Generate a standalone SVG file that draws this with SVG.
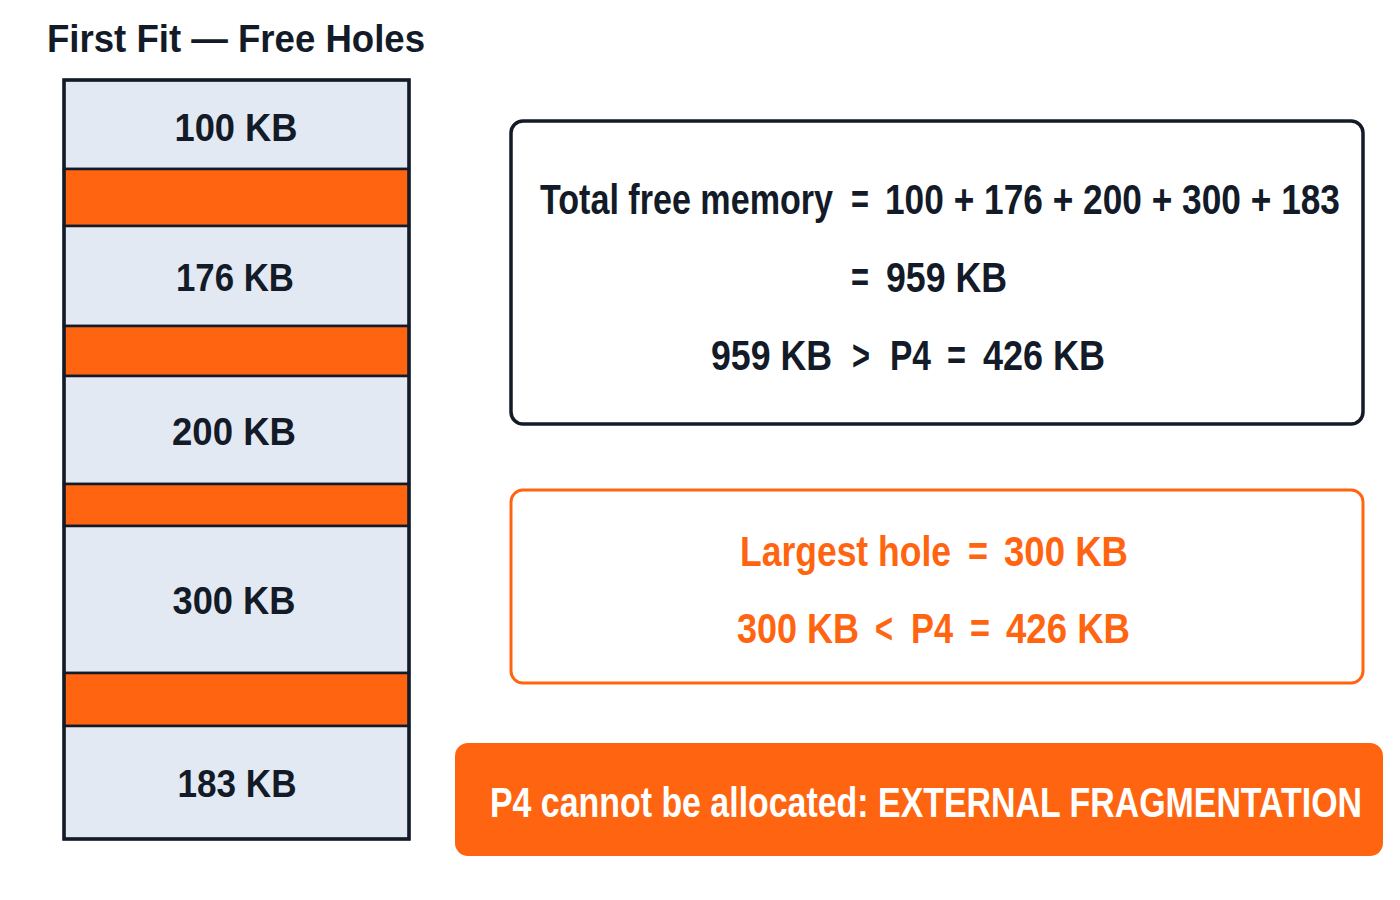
<svg xmlns="http://www.w3.org/2000/svg" width="1400" height="900" viewBox="0 0 1400 900">
  <style>
    text { font-family: "Liberation Sans", "Roboto", Arial, sans-serif; font-weight: bold; }
    .dark { fill: #131a28; }
    .org { fill: #ff6510; }
    .wht { fill: #ffffff; }
    .hole { fill: #e3e9f2; stroke: #131a28; stroke-width: 2.5; }
    .used { fill: #ff6510; stroke: #131a28; stroke-width: 2.5; }
    .lbl { font-size: 38px; text-anchor: middle; }
    .eq { font-size: 33px; }
  </style>
  <rect width="1400" height="900" fill="#ffffff"/>

  <g id="title">
    <text class="dark" x="47" y="52" font-size="38" textLength="378" lengthAdjust="spacingAndGlyphs">First Fit — Free Holes</text>
  </g>

  <g id="memory">
    <rect class="hole" x="64" y="80" width="345" height="89"/>
    <rect class="used" x="64" y="169" width="345" height="57"/>
    <rect class="hole" x="64" y="226" width="345" height="100"/>
    <rect class="used" x="64" y="326" width="345" height="50"/>
    <rect class="hole" x="64" y="376" width="345" height="108"/>
    <rect class="used" x="64" y="484" width="345" height="42"/>
    <rect class="hole" x="64" y="526" width="345" height="147"/>
    <rect class="used" x="64" y="673" width="345" height="53"/>
    <rect class="hole" x="64" y="726" width="345" height="113"/>
    <rect x="64" y="80" width="345" height="759" fill="none" stroke="#131a28" stroke-width="3.5"/>
    <text class="dark lbl" x="236" y="141" textLength="123" lengthAdjust="spacingAndGlyphs">100 KB</text>
    <text class="dark lbl" x="235" y="291" textLength="118" lengthAdjust="spacingAndGlyphs">176 KB</text>
    <text class="dark lbl" x="234" y="445" textLength="124" lengthAdjust="spacingAndGlyphs">200 KB</text>
    <text class="dark lbl" x="234" y="614" textLength="123" lengthAdjust="spacingAndGlyphs">300 KB</text>
    <text class="dark lbl" x="237" y="797" textLength="119" lengthAdjust="spacingAndGlyphs">183 KB</text>
  </g>

  <g id="total-box">
    <rect x="511" y="121" width="852" height="303" rx="12" fill="#ffffff" stroke="#131a28" stroke-width="3.5"/>
    <g transform="translate(0 213.5) scale(1 1.29)">
      <text class="dark eq" x="540" y="0" textLength="293" lengthAdjust="spacingAndGlyphs">Total free memory</text>
      <text class="dark eq" x="851" y="0" textLength="18" lengthAdjust="spacingAndGlyphs">=</text>
      <text class="dark eq" x="885" y="0" textLength="455" lengthAdjust="spacingAndGlyphs">100 + 176 + 200 + 300 + 183</text>
    </g>
    <g transform="translate(0 292) scale(1 1.29)">
      <text class="dark eq" x="851" y="0" textLength="18" lengthAdjust="spacingAndGlyphs">=</text>
      <text class="dark eq" x="886" y="0" textLength="121" lengthAdjust="spacingAndGlyphs">959 KB</text>
    </g>
    <g transform="translate(0 370) scale(1 1.29)">
      <text class="dark eq" x="711" y="0" textLength="121" lengthAdjust="spacingAndGlyphs">959 KB</text>
      <text class="dark eq" x="852" y="0" textLength="18" lengthAdjust="spacingAndGlyphs">&gt;</text>
      <text class="dark eq" x="890" y="0" textLength="41" lengthAdjust="spacingAndGlyphs">P4</text>
      <text class="dark eq" x="947" y="0" textLength="19" lengthAdjust="spacingAndGlyphs">=</text>
      <text class="dark eq" x="983" y="0" textLength="122" lengthAdjust="spacingAndGlyphs">426 KB</text>
    </g>
  </g>

  <g id="largest-box">
    <rect x="511" y="490" width="852" height="193" rx="12" fill="#ffffff" stroke="#ff6510" stroke-width="3"/>
    <g transform="translate(0 566) scale(1 1.29)">
      <text class="org eq" x="740" y="0" textLength="211" lengthAdjust="spacingAndGlyphs">Largest hole</text>
      <text class="org eq" x="968" y="0" textLength="20" lengthAdjust="spacingAndGlyphs">=</text>
      <text class="org eq" x="1004" y="0" textLength="124" lengthAdjust="spacingAndGlyphs">300 KB</text>
    </g>
    <g transform="translate(0 643) scale(1 1.29)">
      <text class="org eq" x="737" y="0" textLength="122" lengthAdjust="spacingAndGlyphs">300 KB</text>
      <text class="org eq" x="875" y="0" textLength="18" lengthAdjust="spacingAndGlyphs">&lt;</text>
      <text class="org eq" x="911" y="0" textLength="42" lengthAdjust="spacingAndGlyphs">P4</text>
      <text class="org eq" x="970" y="0" textLength="20" lengthAdjust="spacingAndGlyphs">=</text>
      <text class="org eq" x="1006" y="0" textLength="124" lengthAdjust="spacingAndGlyphs">426 KB</text>
    </g>
  </g>

  <g id="result-banner">
    <rect x="455" y="743" width="928" height="113" rx="13" fill="#ff6510"/>
    <g transform="translate(0 817) scale(1 1.29)">
      <text class="wht eq" x="490" y="0" textLength="872" lengthAdjust="spacingAndGlyphs">P4 cannot be allocated: EXTERNAL FRAGMENTATION</text>
    </g>
  </g>
</svg>
